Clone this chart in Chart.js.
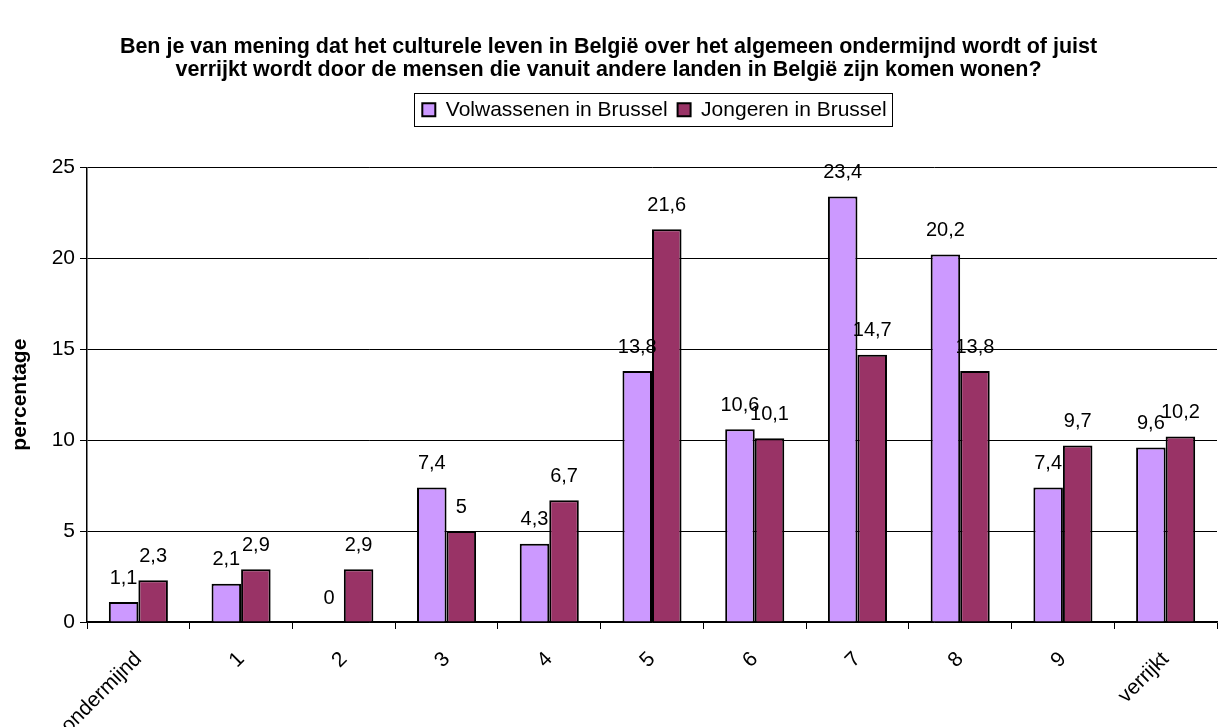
<!DOCTYPE html>
<html>
<head>
<meta charset="utf-8">
<script src="https://cdn.jsdelivr.net/npm/chart.js@4.4.1/dist/chart.umd.min.js"></script>
<style>
  html, body { margin: 0; padding: 0; background: #fff; }
  #wrap { width: 1218px; height: 727px; }
</style>
</head>
<body>
<div id="wrap"><canvas id="barChart" width="1218" height="727"></canvas></div>
<script>
const categories = ['ondermijnd', '1', '2', '3', '4', '5', '6', '7', '8', '9', 'verrijkt'];
const volwassenen = [1.1, 2.1, 0, 7.4, 4.3, 13.8, 10.6, 23.4, 20.2, 7.4, 9.6];
const jongeren = [2.3, 2.9, 2.9, 5, 6.7, 21.6, 10.1, 14.7, 13.8, 9.7, 10.2];
const yTicks = [0, 5, 10, 15, 20, 25];

const FONT = 'Liberation Sans, Arial, sans-serif';
const LEGEND_SHIFT = 46;

// writes the value above every bar, with a decimal comma
const valueLabels = {
    id: 'valueLabels',
    afterDatasetsDraw(chart) {
        const ctx = chart.ctx;
        ctx.save();
        ctx.font = '20px ' + FONT;
        ctx.fillStyle = '#000';
        ctx.textAlign = 'center';
        ctx.textBaseline = 'middle';
        chart.data.datasets.forEach((ds, i) => {
            chart.getDatasetMeta(i).data.forEach((bar, j) => {
                const txt = String(ds.data[j]).replace('.', ',');
                ctx.fillText(txt, bar.x, bar.y - 24);
            });
        });
        ctx.restore();
    }
};

// legend: extra room below it, a bit to the right, and a thin frame around it
const legendFrame = {
    id: 'legendFrame',
    afterInit(chart) {
        const lg = chart.legend;
        if (!lg || lg._patched) return;
        const fit = lg.fit;
        lg.fit = function () {
            fit.call(this);
            this.height += 37;
        };
        lg._patched = true;
    },
    afterUpdate(chart) {
        const lg = chart.legend;
        if (!lg) return;
        lg.left += LEGEND_SHIFT;
        lg.right += LEGEND_SHIFT;
        lg.legendHitBoxes.forEach(b => { b.left += LEGEND_SHIFT; });
    },
    afterDraw(chart) {
        const lg = chart.legend;
        if (!lg || !lg.legendHitBoxes.length) return;
        const boxes = lg.legendHitBoxes;
        const left = boxes[0].left - 8;
        const last = boxes[boxes.length - 1];
        const right = last.left + last.width + 6;
        const top = boxes[0].top - 6;
        const bottom = boxes[0].top + boxes[0].height + 6;
        const ctx = chart.ctx;
        ctx.save();
        ctx.strokeStyle = '#000';
        ctx.lineWidth = 1;
        ctx.strokeRect(Math.round(left) + 0.5, Math.round(top) + 0.5, Math.round(right - left), Math.round(bottom - top));
        ctx.restore();
    }
};

new Chart(document.getElementById('barChart'), {
    type: 'bar',
    data: {
        labels: categories,
        datasets: [{
            label: 'Volwassenen in Brussel',
            data: volwassenen,
            backgroundColor: '#CC99FF',
            borderColor: '#000',
            borderWidth: 2,
            borderSkipped: 'bottom'
        }, {
            label: 'Jongeren in Brussel',
            data: jongeren,
            backgroundColor: '#993366',
            borderColor: '#000',
            borderWidth: 2,
            borderSkipped: 'bottom'
        }]
    },
    options: {
        responsive: false,
        animation: false,
        devicePixelRatio: 1,
        layout: { padding: { left: 0, right: 1, top: 0, bottom: 0 } },
        datasets: {
            bar: { categoryPercentage: 0.575, barPercentage: 1.0 }
        },
        plugins: {
            title: {
                display: true,
                text: ['Ben je van mening dat het culturele leven in België over het algemeen ondermijnd wordt of juist',
                       'verrijkt wordt door de mensen die vanuit andere landen in België zijn komen wonen?'],
                color: '#000',
                font: { family: FONT, size: 21.5, weight: 'bold', lineHeight: 1.1 },
                padding: { top: 35, bottom: 7 }
            },
            legend: {
                display: true,
                position: 'top',
                labels: {
                    color: '#000',
                    font: { family: FONT, size: 21 },
                    boxWidth: 13,
                    boxHeight: 13,
                    padding: 10,
                    generateLabels(chart) {
                        return chart.data.datasets.map((ds, i) => ({
                            text: ds.label,
                            fillStyle: ds.backgroundColor,
                            strokeStyle: '#000',
                            lineWidth: 2,
                            datasetIndex: i
                        }));
                    }
                }
            },
            tooltip: { enabled: false }
        },
        scales: {
            x: {
                offset: true,
                grid: {
                    display: true,
                    offset: true,
                    drawOnChartArea: false,
                    drawTicks: true,
                    tickLength: 7,
                    color: '#000'
                },
                border: { color: '#000', width: 1.5 },
                ticks: {
                    color: '#000',
                    font: { family: FONT, size: 21 },
                    maxRotation: 45,
                    minRotation: 45,
                    autoSkip: false,
                    padding: 18
                },
                afterFit(scale) { scale.height = 105; }
            },
            y: {
                min: 0,
                max: 25,
                afterBuildTicks(scale) {
                    scale.ticks = yTicks.map(v => ({ value: v }));
                },
                grid: {
                    color: '#000',
                    lineWidth: 1,
                    tickLength: 7
                },
                border: { color: '#000', width: 1.5 },
                ticks: {
                    color: '#000',
                    font: { family: FONT, size: 21 },
                    padding: 5
                },
                title: {
                    display: true,
                    text: 'percentage',
                    color: '#000',
                    font: { family: FONT, size: 21, weight: 'bold', lineHeight: 1.2 },
                    padding: { top: 8, bottom: 4 }
                },
                afterFit(scale) { scale.width = 87; }
            }
        }
    },
    plugins: [valueLabels, legendFrame]
});
</script>
</body>
</html>
